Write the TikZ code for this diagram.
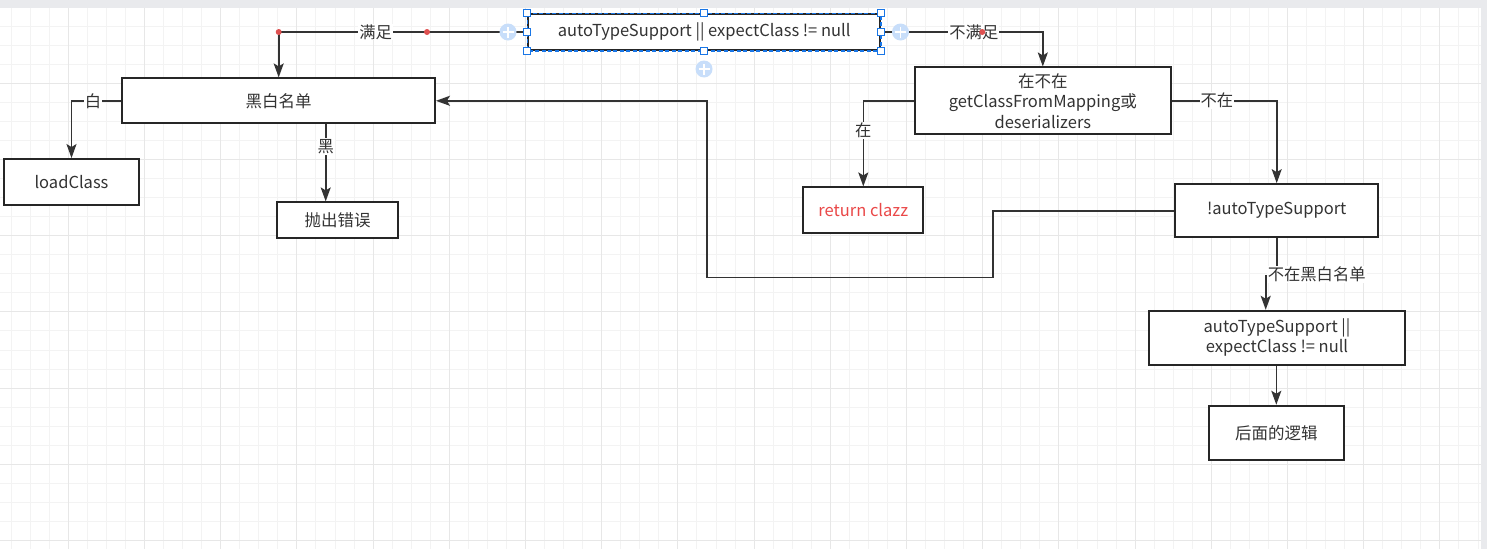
\documentclass[tikz,border=0pt]{standalone}
\usepackage{fontspec}
\setmainfont{Noto Sans CJK SC}
\usepackage{tikz}
\usetikzlibrary{arrows.meta}
\definecolor{ink}{RGB}{51,51,51}
\definecolor{boxline}{RGB}{38,38,38}
\definecolor{redtext}{RGB}{234,72,72}
\definecolor{gridminor}{RGB}{243,243,243}
\definecolor{gridmajor}{RGB}{231,231,231}
\definecolor{chrome}{RGB}{233,234,237}
\definecolor{selblue}{RGB}{25,118,230}
\definecolor{addblue}{RGB}{200,222,250}
\definecolor{dotred}{RGB}{222,80,80}
\tikzstyle{line} = [draw, ink, line width=1.6pt, -{Stealth[length=14pt,width=10pt,inset=3pt]}]
\tikzstyle{block} = [rectangle, draw=boxline, line width=1.8pt, fill=white, text=ink, align=center, inner sep=0pt, font=\fontsize{16.5}{20.5}\selectfont]
\tikzstyle{lbl} = [fill=white, text=ink, inner sep=1pt, font=\fontsize{16.3}{20}\selectfont]
\tikzstyle{handle} = [rectangle, draw=selblue, fill=white, line width=1pt, minimum size=7pt, inner sep=0pt]
\tikzstyle{addbtn} = [circle, fill=addblue, minimum size=17pt, inner sep=0pt, path picture={\draw[white, line width=1.8pt] ([xshift=-5.5pt]path picture bounding box.center) -- ([xshift=5.5pt]path picture bounding box.center) ([yshift=-5.5pt]path picture bounding box.center) -- ([yshift=5.5pt]path picture bounding box.center);}]
\tikzstyle{wayp} = [circle, fill=dotred, minimum size=6pt, inner sep=0pt]
\begin{document}
\begin{tikzpicture}[x=1pt, y=-1pt]
			\useasboundingbox (0,0) rectangle (1487,549);
			\fill[white] (0,0) rectangle (1487,549);
			\begin{scope}
				\clip (0,8) rectangle (1481,549);
				\foreach \k in {-3,...,74} \draw[gridminor, line width=1pt] ({68.3+19.05*\k},8) -- ({68.3+19.05*\k},549);
				\foreach \k in {-3,...,24} \draw[gridminor, line width=1pt] (0,{83.3+19.05*\k}) -- (1481,{83.3+19.05*\k});
				\foreach \k in {0,...,18} \draw[gridmajor, line width=1pt] ({68.3+76.2*\k},8) -- ({68.3+76.2*\k},549);
				\foreach \k in {0,...,6} \draw[gridmajor, line width=1pt] (0,{83.3+76.2*\k}) -- (1481,{83.3+76.2*\k});
			\end{scope}
			\fill[chrome] (0,0) rectangle (1487,8);
			\fill[chrome] (1481,0) rectangle (1487,549);

			\node [block, minimum width=351.7pt, minimum height=36pt] (cond) at (704.2,32) {autoTypeSupport || expectClass != null};
			\node [block, minimum width=312.7pt, minimum height=45pt] (bw) at (278.7,100.8) {黑白名单};
			\node [block, minimum width=134.4pt, minimum height=45.7pt] (load) at (71.5,181.8) {loadClass};
			\node [block, minimum width=120.4pt, minimum height=36pt] (err) at (337.5,220.3) {抛出错误};
			\node [block, minimum width=255.7pt, minimum height=66.7pt] (map) at (1042.8,100.7) {在不在\\getClassFromMapping或\\deserializers};
			\node [block, minimum width=120pt, minimum height=46pt, text=redtext] (ret) at (863.3,210.3) {return clazz};
			\node [block, minimum width=203.3pt, minimum height=53.3pt] (nat) at (1276.7,210.7) {!autoTypeSupport};
			\node [block, minimum width=256pt, minimum height=54pt] (cond2) at (1277,337.7) {autoTypeSupport ||\\expectClass != null};
			\node [block, minimum width=134.7pt, minimum height=54.3pt] (next) at (1276.3,432.8) {后面的逻辑};

			\path [line] (cond.west) -| node [lbl, pos=0.305] (ok) {满足} (bw.north);
			\path [line] (cond.east) -| node [lbl, pos=0.287] (notok) {不满足} (map.north);
			\path [line] (bw.west) -| node [lbl, pos=0.285] (white) {白} (load.north);
			\path [line] ([xshift=47pt]bw.south) -- node [lbl, pos=0.287] (black) {黑} ([xshift=47pt]bw.south |- err.north);
			\path [line] (map.west) -| node [lbl, pos=0.675] (found) {在} (ret.north);
			\path [line] (map.east) -| node [lbl, pos=0.216] (notfound) {不在} (nat.north);
			\path [line] (nat.west) -| (992.7,277.3) -- (706.7,277.3) |- (bw.east);
			\path [line] (nat.south) -- ++(0,37.7) -| ([xshift=-11.3pt]cond2.north);
			\node [lbl, anchor=west] (notlisted) at (1266.6,274.5) {不在黑白名单};
			\path [line] (next.north |- cond2.south) -- (next.north);

			\draw [selblue, line width=1.2pt, dash pattern=on 4pt off 2.5pt] (cond.north west) rectangle (cond.south east);
			\foreach \a [count=\i] in {north west, north, north east, west, east, south west, south, south east}
				\node [handle] (hd\i) at (cond.\a) {};
			\node [addbtn] (addl) at (508,32) {};
			\node [addbtn] (addr) at (900.5,32) {};
			\node [addbtn] (addb) at (704,69) {};
			\node [wayp] (wp1) at (278.7,32) {};
			\node [wayp] (wp2) at (427,32) {};
			\node [wayp] (wp3) at (982.3,32) {};
		\end{tikzpicture}
\end{document}
